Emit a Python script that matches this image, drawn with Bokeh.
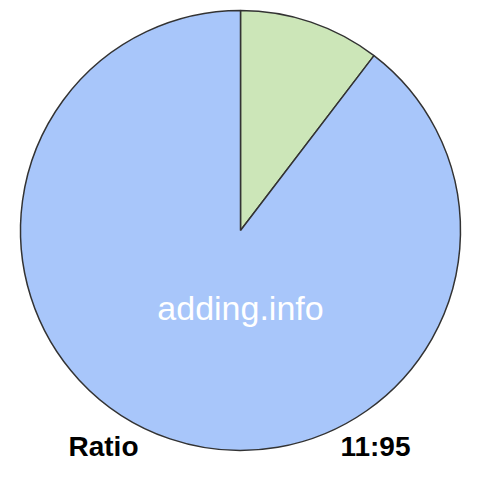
import math
from bokeh.plotting import figure
from bokeh.models import Range1d, ColumnDataSource
from bokeh.core.properties import value
from bokeh.embed import file_html
from bokeh.resources import INLINE

labels = ["A", "B"]
values = [11, 95]
colors = ["#cce6b8", "#a8c6fa"]
footer_left = "Ratio"
footer_right = "11:95"
watermark = "adding.info"

W = H = 464
p = figure(width=W, height=H, output_backend="svg", toolbar_location=None,
           x_range=Range1d(0, W), y_range=Range1d(0, H), min_border=0)
p.axis.visible = False
p.grid.visible = False
p.outline_line_color = None
p.background_fill_color = "white"
p.border_fill_color = "white"

total = sum(values)
starts, ends = [], []
acc = 0.0
for v in values:
    a0 = math.pi / 2 - 2 * math.pi * acc / total
    acc += v
    a1 = math.pi / 2 - 2 * math.pi * acc / total
    starts.append(a1)
    ends.append(a0)

CX, CY, R = 240, 234, 220

src = ColumnDataSource(dict(start=starts, end=ends, color=colors, label=labels))
p.wedge(x=CX, y=CY, radius=R, start_angle="start", end_angle="end",
        fill_color="color", line_color="#333333", line_width=1.5, source=src)

p.text(x=[CX], y=[CY - 77], text=[watermark], text_color="white",
       text_font=value("Liberation Sans"), text_font_size="34px",
       text_align="center", text_baseline="alphabetic")
p.text(x=[68], y=[18], text=[footer_left], text_color="black",
       text_font=value("Liberation Sans"), text_font_size="28px", text_font_style="bold",
       text_align="left", text_baseline="alphabetic")
p.text(x=[410], y=[18], text=[footer_right], text_color="black",
       text_font=value("Liberation Sans"), text_font_size="28px", text_font_style="bold",
       text_align="right", text_baseline="alphabetic")

open("out.html", "w").write(file_html(p, INLINE))
